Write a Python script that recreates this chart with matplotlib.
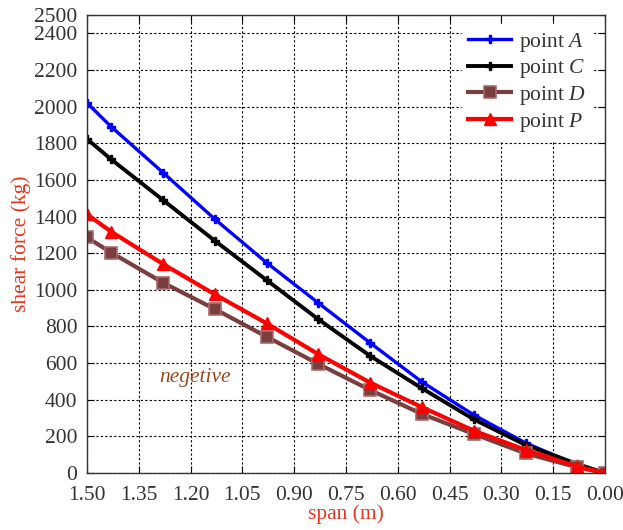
import matplotlib.pyplot as plt

plt.rcParams['font.family'] = ['Liberation Serif', 'DejaVu Serif']
plt.rcParams['mathtext.fontset'] = 'custom'
plt.rcParams['mathtext.it'] = 'Liberation Serif:italic'
plt.rcParams['mathtext.rm'] = 'Liberation Serif'

span = [1.50, 1.43, 1.28, 1.13, 0.98, 0.83, 0.68, 0.53, 0.38, 0.23, 0.08, 0.00]
point_a = [2020, 1890, 1640, 1386, 1148, 928, 710, 497, 317, 164, 44, 0]
point_c = [1823, 1712, 1490, 1268, 1053, 839, 639, 462, 293, 153, 49, 0]
point_d = [1286, 1203, 1039, 895, 744, 595, 453, 322, 213, 107, 31, 0]
point_p = [1412, 1317, 1141, 975, 817, 648, 493, 359, 231, 126, 35, 0]

xticks = [1.50, 1.35, 1.20, 1.05, 0.90, 0.75, 0.60, 0.45, 0.30, 0.15, 0.00]
yticks = [0, 200, 400, 600, 800, 1000, 1200, 1400, 1600, 1800, 2000, 2200, 2400, 2500]

fig = plt.figure(figsize=(6.23, 5.30), dpi=100)
ax = fig.add_axes([87 / 623, 57 / 530, 518 / 623, 458 / 530])

brown = '#7a3e3e'
ax.plot(span, point_a, color='#0000ff', lw=2.4, marker='P', ms=6, label='point $A$')
ax.plot(span, point_c, color='black', lw=2.8, marker='P', ms=6, label='point $C$')
ax.plot(span, point_d, color=brown, lw=3, marker='s', ms=8, mfc=brown,
        mec='#a86a6a', mew=1.2, label='point $D$')
ax.plot(span, point_p, color='#ff0000', lw=3, marker='^', ms=9, label='point $P$')

ax.set_xlim(1.5, 0.0)
ax.set_ylim(0, 2500)
ax.set_xticks(xticks)
ax.set_xticklabels(['%.2f' % v for v in xticks])
ax.set_yticks(yticks)

ax.grid(True, linestyle=(0, (2, 2)), color='black', lw=0.8)
ax.tick_params(direction='in', top=True, right=True, labelsize=15.5,
               labelcolor='#333333', length=5, pad=7)
ax.tick_params(axis='x', pad=9)
for s in ax.spines.values():
    s.set_color('#333333')
    s.set_linewidth(1)

ax.set_xlabel('span (m)', color='#e8361e', fontsize=15.5, labelpad=0)
ax.set_ylabel('shear force (kg)', color='#e8361e', fontsize=15.5, labelpad=2)

ax.text(1.29, 520, 'negetive', color='#9a4a1e', fontsize=15.5, style='italic',
        va='center', ha='left')

leg = ax.legend(loc='upper right', fontsize=15.5, frameon=True, fancybox=False,
                edgecolor='white', framealpha=1, handlelength=2.0,
                bbox_to_anchor=(0.975, 0.98),
                borderaxespad=0.0, labelspacing=0.17, handletextpad=0.35,
                borderpad=0.3)
for t in leg.get_texts():
    t.set_color('#333333')

fig.savefig('out.png', dpi=100)
